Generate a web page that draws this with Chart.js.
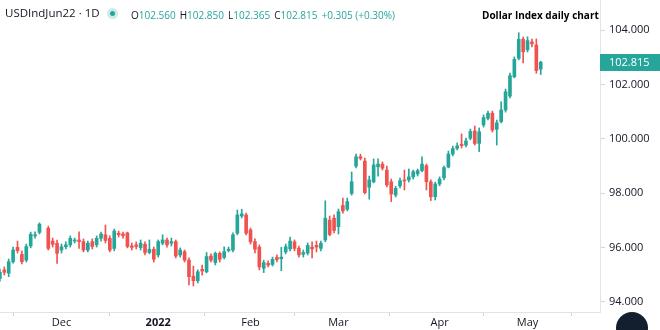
<!DOCTYPE html>
<html lang="en">
  <head>
    <meta charset="UTF-8" />
    <title>Dollar Index daily chart</title>
    <script src="https://cdn.jsdelivr.net/npm/chart.js"></script>
    <style>
      body { margin: 0; background: #fff; }
      .wrap { position: relative; width: 660px; height: 330px; overflow: hidden; font-family: "Open Sans", sans-serif; }
      .wrap canvas { position: absolute; left: 0; top: 0; }
      .txt { position: absolute; line-height: 16px; white-space: nowrap; color: #131722; }
      .sym { left: 5px; top: 5px; font-size: 11.5px; }
      .dot { position: absolute; left: 107px; top: 8px; width: 11px; height: 11px; border-radius: 50%; background: rgba(38, 166, 154, 0.22); }
      .dot::after { content: ""; position: absolute; left: 3px; top: 3px; width: 5px; height: 5px; border-radius: 50%; background: #26a69a; }
      .ohlc { left: 131px; top: 7px; font-size: 10px; }
      .ohlc b { font-weight: normal; color: #26a69a; margin-right: 4px; }
      .title { left: 482px; top: 7px; font-size: 10px; font-weight: bold; color: #000; }
    </style>
  </head>
  <body>
    <div class="wrap">
      <canvas id="dxy" width="660" height="330"></canvas>
      <div class="txt sym">USDIndJun22 · 1D</div>
      <div class="dot"></div>
      <div class="txt ohlc" id="ohlc"></div>
      <div class="txt title">Dollar Index daily chart</div>
    </div>
    <script>
      // trading days, Nov 2021 - May 2022 (Nov 25 has no bar)
      const dates = [
        "2021-11-11", "2021-11-12", "2021-11-15", "2021-11-16", "2021-11-17", "2021-11-18", "2021-11-19",
        "2021-11-22", "2021-11-23", "2021-11-24", "2021-11-25", "2021-11-26", "2021-11-29", "2021-11-30",
        "2021-12-01", "2021-12-02", "2021-12-03", "2021-12-06", "2021-12-07", "2021-12-08", "2021-12-09",
        "2021-12-10", "2021-12-13", "2021-12-14", "2021-12-15", "2021-12-16", "2021-12-17", "2021-12-20",
        "2021-12-21", "2021-12-22", "2021-12-23", "2021-12-27", "2021-12-28", "2021-12-29", "2021-12-30",
        "2021-12-31",
        "2022-01-03", "2022-01-04", "2022-01-05", "2022-01-06", "2022-01-07", "2022-01-10", "2022-01-11",
        "2022-01-12", "2022-01-13", "2022-01-14", "2022-01-17", "2022-01-18", "2022-01-19", "2022-01-20",
        "2022-01-21", "2022-01-24", "2022-01-25", "2022-01-26", "2022-01-27", "2022-01-28", "2022-01-31",
        "2022-02-01", "2022-02-02", "2022-02-03", "2022-02-04", "2022-02-07", "2022-02-08", "2022-02-09",
        "2022-02-10", "2022-02-11", "2022-02-14", "2022-02-15", "2022-02-16", "2022-02-17", "2022-02-18",
        "2022-02-21", "2022-02-22", "2022-02-23", "2022-02-24", "2022-02-25", "2022-02-28",
        "2022-03-01", "2022-03-02", "2022-03-03", "2022-03-04", "2022-03-07", "2022-03-08", "2022-03-09",
        "2022-03-10", "2022-03-11", "2022-03-14", "2022-03-15", "2022-03-16", "2022-03-17", "2022-03-18",
        "2022-03-21", "2022-03-22", "2022-03-23", "2022-03-24", "2022-03-25", "2022-03-28", "2022-03-29",
        "2022-03-30", "2022-03-31",
        "2022-04-01", "2022-04-04", "2022-04-05", "2022-04-06", "2022-04-07", "2022-04-08", "2022-04-11",
        "2022-04-12", "2022-04-13", "2022-04-14", "2022-04-18", "2022-04-19", "2022-04-20", "2022-04-21",
        "2022-04-22", "2022-04-25", "2022-04-26", "2022-04-27", "2022-04-28", "2022-04-29",
        "2022-05-02", "2022-05-03", "2022-05-04", "2022-05-05"
      ];

      const openP = [
        94.87, 95.18, 95.06, 95.48, 96.01, 95.75, 95.54, 96.06, 96.43, 96.56, null, 96.71, 96.24, 96.16,
        95.91, 96.03, 96.10, 96.24, 96.28, 96.22, 95.91, 96.22, 96.10, 96.34, 96.47, 96.34, 95.97, 96.53,
        96.50, 96.54, 96.06, 96.10, 96.00, 96.12, 95.82, 95.94,
        95.73, 96.16, 96.28, 96.16, 96.22, 95.73, 95.85, 95.54, 94.95, 94.78, 95.20, 95.11, 95.69, 95.45,
        95.79, 95.64, 95.89, 95.91, 96.53, 97.16, 97.20,
        96.65, 96.22, 96.02, 95.24, 95.42, 95.38, 95.64, 95.59, 95.84, 95.95, 96.21, 95.97, 95.75, 95.80,
        96.02, 96.08, 95.97, 96.28, 97.01, 97.08,
        96.77, 97.55, 97.41, 97.99, 99.00, 99.34, 99.18, 98.22, 98.42, 98.97, 99.07, 98.85, 98.42, 97.93,
        98.27, 98.49, 98.49, 98.60, 98.71, 98.83, 99.01, 98.42, 97.87,
        98.34, 98.56, 98.96, 99.44, 99.65, 99.80, 99.77, 100.02, 100.29, 99.83, 100.51, 100.75, 100.94,
        100.35, 100.63, 101.06, 101.57, 102.28, 102.96, 103.66,
        103.27, 103.56, 103.45, 102.560
      ];
      const highP = [
        95.21, 95.29, 95.58, 96.02, 96.24, 95.88, 96.13, 96.57, 96.58, 96.91, null, 96.79, 96.35, 96.28,
        96.13, 96.21, 96.43, 96.35, 96.58, 96.32, 96.24, 96.32, 96.43, 96.57, 96.83, 96.43, 96.68, 96.61,
        96.57, 96.57, 96.17, 96.21, 96.28, 96.21, 96.28, 96.02,
        96.28, 96.47, 96.35, 96.35, 96.28, 95.99, 95.91, 95.62, 95.32, 95.18, 95.36, 95.82, 95.77, 95.84,
        95.84, 96.03, 96.02, 96.54, 97.38, 97.41, 97.27,
        96.72, 96.32, 96.10, 95.54, 95.51, 95.65, 95.73, 96.01, 96.13, 96.39, 96.28, 96.06, 95.91, 96.17,
        96.21, 96.24, 96.24, 97.72, 97.16, 97.20,
        97.42, 97.82, 97.82, 98.78, 99.44, 99.44, 99.29, 98.63, 99.26, 99.26, 99.15, 99.00, 98.52, 98.26,
        98.56, 98.85, 98.89, 98.85, 98.89, 99.34, 99.07, 98.49, 98.41,
        98.60, 99.00, 99.55, 99.73, 99.85, 100.18, 100.03, 100.36, 100.47, 100.40, 100.88, 101.02, 101.02,
        100.69, 101.36, 101.83, 102.42, 103.01, 103.90, 103.74,
        103.75, 103.67, 103.67, 102.850
      ];
      const lowP = [
        94.77, 94.99, 94.93, 95.43, 95.80, 95.40, 95.47, 95.99, 96.35, 96.50, null, 95.91, 96.02, 95.42,
        95.80, 95.95, 96.02, 96.17, 95.97, 95.84, 95.84, 95.95, 96.02, 96.24, 96.17, 95.84, 95.88, 96.39,
        96.35, 95.99, 95.91, 95.95, 95.91, 95.73, 95.77, 95.47,
        95.65, 96.10, 96.02, 96.06, 95.62, 95.65, 95.47, 94.63, 94.59, 94.70, 94.99, 95.07, 95.47, 95.36,
        95.47, 95.58, 95.84, 95.84, 96.47, 97.09, 96.47,
        96.13, 95.80, 95.18, 95.08, 95.29, 95.32, 95.47, 95.15, 95.77, 95.88, 95.88, 95.65, 95.65, 95.73,
        95.62, 95.84, 95.88, 96.21, 96.43, 96.54,
        96.50, 97.27, 97.35, 97.93, 98.93, 99.22, 97.97, 97.78, 98.38, 98.63, 98.85, 98.23, 97.69, 97.86,
        98.19, 98.12, 98.41, 98.52, 98.63, 98.78, 98.12, 97.73, 97.75,
        98.27, 98.49, 98.93, 99.37, 99.59, 99.66, 99.70, 99.96, 99.77, 99.53, 100.43, 100.69, 100.25,
        99.77, 100.58, 100.98, 101.50, 102.24, 102.90, 102.79,
        103.19, 103.38, 102.41, 102.365
      ];
      const closeP = [
        95.09, 95.09, 95.48, 95.91, 95.89, 95.48, 96.04, 96.49, 96.47, 96.86, null, 95.97, 96.12, 95.79,
        96.03, 96.10, 96.34, 96.28, 96.22, 95.91, 96.16, 96.04, 96.34, 96.50, 96.26, 95.91, 96.61, 96.47,
        96.44, 96.04, 96.01, 96.04, 96.16, 95.82, 95.94, 95.57,
        96.22, 96.28, 96.10, 96.22, 95.69, 95.91, 95.54, 94.93, 94.78, 95.11, 95.14, 95.67, 95.54, 95.79,
        95.57, 95.85, 95.94, 96.47, 97.20, 97.24, 96.53,
        96.21, 95.94, 95.29, 95.45, 95.36, 95.57, 95.56, 95.65, 96.03, 96.24, 95.97, 95.73, 95.82, 96.08,
        95.95, 96.02, 96.16, 97.08, 96.48, 96.63,
        97.32, 97.35, 97.69, 98.42, 99.34, 99.28, 98.02, 98.49, 99.04, 99.07, 98.92, 98.30, 97.97, 98.18,
        98.46, 98.45, 98.60, 98.79, 98.83, 99.07, 98.42, 97.87, 98.34,
        98.52, 98.94, 99.44, 99.64, 99.74, 99.75, 99.92, 100.27, 99.83, 100.26, 100.78, 100.94, 100.32,
        100.59, 101.06, 101.73, 102.32, 102.92, 103.66, 103.20,
        103.61, 103.49, 102.51, 102.815
      ];

      const yTicks = [94, 96, 98, 100, 102, 104];
      const monthLabels = { "2021-12": "Dec", "2022-01": "2022", "2022-02": "Feb", "2022-03": "Mar", "2022-04": "Apr", "2022-05": "May" };

      const UP = "#26a69a";
      const DOWN = "#ef5350";
      const FONT = "'Open Sans', sans-serif";

      // first trading day of each month gets an axis label
      const monthTicks = [];
      dates.forEach((d, i) => {
        if (i > 0 && d.slice(0, 7) !== dates[i - 1].slice(0, 7)) monthTicks.push(i);
      });

      const bars = [];
      dates.forEach((d, i) => {
        if (openP[i] !== null) bars.push(i);
      });
      const colors = bars.map((i) => (closeP[i] >= openP[i] ? UP : DOWN));

      const last = dates.length - 1;
      const chg = closeP[last] - closeP[last - 1];
      const pct = (chg / closeP[last - 1]) * 100;
      const sign = chg >= 0 ? "+" : "";
      document.getElementById("ohlc").innerHTML =
        "O<b>" + openP[last].toFixed(3) + "</b>" +
        "H<b>" + highP[last].toFixed(3) + "</b>" +
        "L<b>" + lowP[last].toFixed(3) + "</b>" +
        "C<b>" + closeP[last].toFixed(3) + "</b>" +
        "<b>" + sign + chg.toFixed(3) + " (" + sign + pct.toFixed(2) + "%)</b>";

      const priceBadge = {
        id: "priceBadge",
        afterDraw(chart) {
          const c = chart.ctx;
          const area = chart.chartArea;
          const y = chart.scales.y.getPixelForValue(closeP[last]);
          c.save();
          c.fillStyle = closeP[last] >= openP[last] ? UP : DOWN;
          c.fillRect(area.right, Math.round(y) - 8, 60, 17);
          c.fillStyle = "#ffffff";
          c.font = "11px " + FONT;
          c.textBaseline = "middle";
          c.fillText(closeP[last].toFixed(3), area.right + 9, y + 0.5);
          // round button in the corner
          c.fillStyle = "#131e2e";
          c.beginPath();
          c.arc(632, 328, 16, 0, Math.PI * 2);
          c.fill();
          c.restore();
        },
      };

      new Chart(document.getElementById("dxy"), {
        type: "bar",
        data: {
          datasets: [
            {
              label: "wick",
              data: bars.map((i) => ({ x: i, y: [lowP[i], highP[i]] })),
              backgroundColor: colors,
              barThickness: 1,
              grouped: false,
            },
            {
              label: "body",
              data: bars.map((i) => ({ x: i, y: [openP[i], closeP[i]] })),
              backgroundColor: colors,
              barThickness: 3,
              minBarLength: 1,
              grouped: false,
            },
          ],
        },
        options: {
          responsive: false,
          animation: false,
          layout: { padding: 0 },
          plugins: {
            legend: { display: false },
            tooltip: { enabled: false },
          },
          scales: {
            x: {
              type: "linear",
              min: 0.02,
              max: 136.48,
              offset: false,
              afterBuildTicks: (s) => {
                s.ticks = monthTicks.map((v) => ({ value: v }));
              },
              afterFit: (s) => {
                s.height = 18;
                s.paddingLeft = 0;
                s.paddingRight = 0;
              },
              grid: { drawOnChartArea: false, tickLength: 4, color: "#d1d4dc" },
              border: { color: "#e0e3eb" },
              ticks: {
                autoSkip: false,
                maxRotation: 0,
                padding: 0,
                color: "#131722",
                font: (ctx) => ({
                  family: FONT,
                  size: 11,
                  weight: ctx.tick && ctx.tick.label === "2022" ? "bold" : "normal",
                }),
                callback: (v) => monthLabels[dates[v].slice(0, 7)],
              },
            },
            y: {
              position: "right",
              min: 93.632,
              max: 105.103,
              afterBuildTicks: (s) => {
                s.ticks = yTicks.map((v) => ({ value: v }));
              },
              afterFit: (s) => {
                s.width = 60;
                s.paddingTop = 0;
                s.paddingBottom = 0;
              },
              grid: { drawOnChartArea: false, tickLength: 5, color: "#d1d4dc" },
              border: { color: "#e0e3eb" },
              ticks: {
                padding: 4,
                color: "#131722",
                font: { family: FONT, size: 11 },
                callback: (v) => v.toFixed(3),
              },
            },
          },
        },
        plugins: [priceBadge],
      });
    </script>
  </body>
</html>
